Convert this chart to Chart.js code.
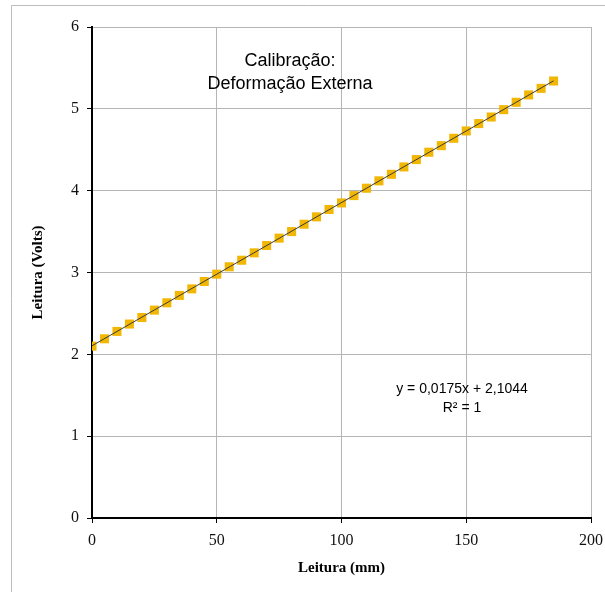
<!DOCTYPE html>
<html>
<head>
<meta charset="utf-8">
<script src="https://cdn.jsdelivr.net/npm/chart.js@4.4.1/dist/chart.umd.min.js"></script>
<style>
  html, body { margin: 0; padding: 0; background: #fff; }
  #grafico { display: block; }
</style>
</head>
<body>
<canvas id="grafico" width="605" height="592"></canvas>
<script>
// leituras (mm) e tensao (V)
const leituraMm = [0, 5, 10, 15, 20, 25, 30, 35, 40, 45, 50, 55, 60, 65, 70, 75, 80, 85, 90, 95,
  100, 105, 110, 115, 120, 125, 130, 135, 140, 145, 150, 155, 160, 165, 170, 175, 180, 185];
const leituraVolts = [2.10, 2.19, 2.28, 2.37, 2.45, 2.54, 2.63, 2.72, 2.80, 2.89, 2.98, 3.07, 3.15, 3.24,
  3.33, 3.42, 3.50, 3.59, 3.68, 3.77, 3.85, 3.94, 4.03, 4.12, 4.20, 4.29, 4.38, 4.47, 4.55, 4.64,
  4.73, 4.82, 4.90, 4.99, 5.08, 5.17, 5.25, 5.34];

// linha de tendencia (extremos)
const tendX = [0, 185];
const tendY = [2.1044, 5.342];

const tituloLinhas = ["Calibração:", "Deformação Externa"];
const equacaoLinhas = ["y = 0,0175x + 2,1044", "R² = 1"];

const pontos = leituraMm.map((x, i) => ({ x: x, y: leituraVolts[i] }));
const tendencia = tendX.map((x, i) => ({ x: x, y: tendY[i] }));

const serif = "'Liberation Serif', 'Times New Roman', serif";
const sans = "'Liberation Sans', Arial, sans-serif";

// textos e moldura
const textos = {
  id: "textos",
  beforeDraw(chart) {
    const ctx = chart.ctx;
    ctx.save();
    ctx.strokeStyle = "#bdbdbd";
    ctx.lineWidth = 1;
    ctx.beginPath();
    ctx.moveTo(11.5, 592);
    ctx.lineTo(11.5, 5.5);
    ctx.lineTo(605, 5.5);
    ctx.stroke();
    ctx.restore();
  },
  afterDraw(chart) {
    const ctx = chart.ctx;
    ctx.save();
    ctx.fillStyle = "#000";
    ctx.textAlign = "center";
    ctx.textBaseline = "middle";
    ctx.font = "18px " + sans;
    ctx.fillText(tituloLinhas[0], 290, 61);
    ctx.fillText(tituloLinhas[1], 290, 84);
    ctx.font = "14px " + sans;
    ctx.fillText(equacaoLinhas[0], 462, 389);
    ctx.fillText(equacaoLinhas[1], 462, 408);
    ctx.restore();
  }
};

new Chart(document.getElementById("grafico"), {
  type: "scatter",
  data: {
    datasets: [
      {
        label: "Tendência",
        data: tendencia,
        showLine: true,
        borderColor: "#3a3a3a",
        borderWidth: 1,
        pointRadius: 0,
        fill: false
      },
      {
        label: "Leitura",
        data: pontos,
        pointStyle: "rect",
        pointRadius: 6.4,
        pointHoverRadius: 6.4,
        backgroundColor: "#f2b705",
        borderColor: "#f2b705",
        borderWidth: 0
      }
    ]
  },
  options: {
    responsive: false,
    animation: false,
    layout: { padding: { top: 27, right: 14, left: 0, bottom: 0 } },
    plugins: {
      legend: { display: false },
      tooltip: { enabled: false }
    },
    scales: {
      x: {
        type: "linear",
        min: 0,
        max: 200,
        afterFit: (s) => { s.height = 74; s.paddingLeft = 0; s.paddingRight = 0; },
        ticks: {
          stepSize: 50,
          color: "#111",
          padding: 8,
          maxRotation: 0,
          font: { family: serif, size: 16 }
        },
        grid: { color: "#b5b5b5", tickColor: "#000", tickLength: 5, lineWidth: 1 },
        border: { color: "#000", width: 2 },
        title: {
          display: true,
          text: "Leitura (mm)",
          color: "#000",
          padding: { top: 0, bottom: 15 },
          font: { family: serif, size: 15, weight: "bold" }
        }
      },
      y: {
        type: "linear",
        min: 0,
        max: 6,
        afterFit: (s) => { s.width = 92; s.paddingTop = 0; s.paddingBottom = 0; },
        ticks: {
          stepSize: 1,
          color: "#111",
          padding: 8,
          font: { family: serif, size: 16 }
        },
        grid: { color: "#b5b5b5", tickColor: "#000", tickLength: 5, lineWidth: 1 },
        border: { color: "#000", width: 2 },
        title: {
          display: true,
          text: "Leitura (Volts)",
          color: "#000",
          padding: { top: 29, bottom: 0 },
          font: { family: serif, size: 15, weight: "bold" }
        }
      }
    }
  },
  plugins: [textos]
});
</script>
</body>
</html>
